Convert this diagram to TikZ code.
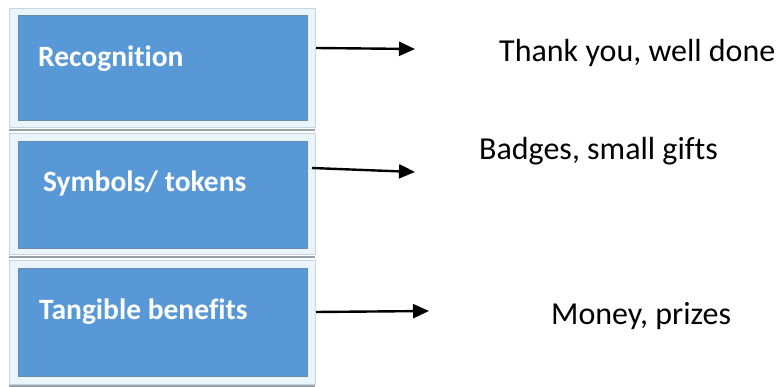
\documentclass[tikz,border=0pt]{standalone}
\usepackage{fontspec}
\setmainfont{Carlito}[Ligatures={NoCommon}]
\usetikzlibrary{arrows.meta}
\definecolor{boxblue}{HTML}{5898D6}
\definecolor{boxedge}{HTML}{6A8CB0}
\definecolor{framefill}{HTML}{EAF4FB}
\definecolor{frameedge}{HTML}{C9D5DE}
\definecolor{sepline}{HTML}{98A2AA}
\tikzset{
  frame/.style={draw=frameedge, fill=framefill, line width=1pt},
  bluebox/.style={draw=boxedge, fill=boxblue, line width=1pt},
  boxtext/.style={anchor=base west, inner sep=0pt, text=white, font=\fontsize{29.5}{34}\selectfont\bfseries},
  sidetext/.style={anchor=base west, inner sep=0pt, text=black, font=\fontsize{32}{36}\selectfont},
  arrowline/.style={line width=2.4pt, -{Triangle[length=16pt,width=14pt]}}
}
\begin{document}
\begin{tikzpicture}[x=1pt,y=-1pt]
\useasboundingbox (0,0) rectangle (780,387);
% frames
\path[frame] (9,9) rectangle (315,128);
\path[frame] (9,134) rectangle (315,255);
\path[frame] (9,261) rectangle (315,385);
\draw[sepline, line width=1.2pt] (9,130) -- (315,130);
\draw[sepline, line width=1.2pt] (9,257) -- (315,257);
\draw[sepline, line width=1.2pt] (9,386) -- (315,386);
% blue boxes
\node[bluebox, minimum width=289pt, minimum height=105pt, inner sep=0pt, anchor=north west] (b1) at (18,15) {};
\node[bluebox, minimum width=289pt, minimum height=107pt, inner sep=0pt, anchor=north west] (b2) at (18,141) {};
\node[bluebox, minimum width=289pt, minimum height=108pt, inner sep=0pt, anchor=north west] (b3) at (18,268) {};
% box texts
\node[boxtext] (t1) at (38,66.5) {Recognition};
\node[boxtext] (t2) at (43,192) {Symbols/ tokens};
\node[boxtext] (t3) at (39,320) {Tangible benefits};
% side texts
\node[sidetext] (s1) at (499,61.5) {Thank you, well done};
\node[sidetext] (s2) at (479,160) {Badges, small gifts};
\node[sidetext] (s3) at (551,325) {Money, prizes};
% arrows
\coordinate (a1s) at (316,48);
\coordinate (a1e) at (415,49);
\coordinate (a2s) at (312,168);
\coordinate (a2e) at (415,172);
\coordinate (a3s) at (316,312);
\coordinate (a3e) at (429,311);
\draw[arrowline] (a1s) -- (a1e);
\draw[arrowline] (a2s) -- (a2e);
\draw[arrowline] (a3s) -- (a3e);
\end{tikzpicture}
\end{document}
